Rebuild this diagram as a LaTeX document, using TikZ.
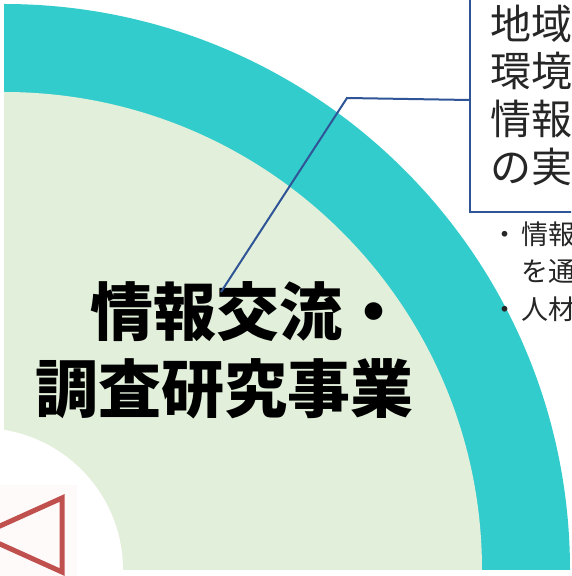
\documentclass[tikz,border=0pt]{standalone}
\usepackage{fontspec}
\newfontfamily\jp{Noto Sans CJK JP}
\definecolor{tealc}{RGB}{51,204,204}
\definecolor{greenc}{RGB}{226,239,218}
\definecolor{redc}{RGB}{192,80,77}
\definecolor{navy}{RGB}{47,85,151}
\definecolor{tint}{RGB}{253,250,249}
\begin{document}
\begin{tikzpicture}[x=1pt,y=1pt,
  bigtext/.style={font=\jp\bfseries\fontsize{63}{77}\selectfont, inner sep=0pt, align=left},
  boxtext/.style={font=\jp\fontsize{41}{48}\selectfont, inner sep=0pt, anchor=base west, text=black!85},
  smalltext/.style={font=\jp\fontsize{27}{37}\selectfont, inner sep=0pt, anchor=base west, text=black!85},
  leader/.style={draw=navy, line width=2pt}]
\useasboundingbox (0,0) rectangle (571,576);
\clip (0,0) rectangle (571,576);
\fill[white] (0,0) rectangle (571,576);
\begin{scope}
  \clip (0,6) rectangle (571,576);
  \fill[tealc] (4,6) -- (4,572) arc[start angle=90,end angle=0,radius=566] -- cycle;
  \fill[greenc] (4,6) -- (4,484) arc[start angle=90,end angle=0,radius=478] -- cycle;
  \fill[white] (-19,6) circle[radius=142];
\end{scope}
\fill[tint] (0,0) rectangle (77,91);
\draw[redc, line width=5pt, line join=miter] (62,78) -- (62,4) -- (-20,41) -- cycle;

\node[draw=navy, line width=2pt, fill=white, minimum width=200pt, minimum height=400pt,
      anchor=south west, inner sep=0pt] (box) at (469,363) {};
\node[boxtext] (b1) at (490,536) {地域};
\node[boxtext] (b2) at (490,489) {環境};
\node[boxtext] (b3) at (490,441) {情報};
\node[boxtext] (b4) at (490,393) {の実};

\node[smalltext] (s1) at (491.5,331) {・\kern3pt 情報};
\node[smalltext] (s2) at (521.5,294) {を通};
\node[smalltext] (s3) at (491.5,256) {・\kern3pt 人材};

\node[bigtext, anchor=west] (title) at (35,226) {\hspace*{55pt}情報交流・\\調査研究事業};

\coordinate (leadstart) at (221,284);
\coordinate (bend) at (347,478);
\coordinate (boxpin) at (469,476);
\draw[leader] (leadstart) -- (bend) -- (boxpin);
\end{tikzpicture}
\end{document}
